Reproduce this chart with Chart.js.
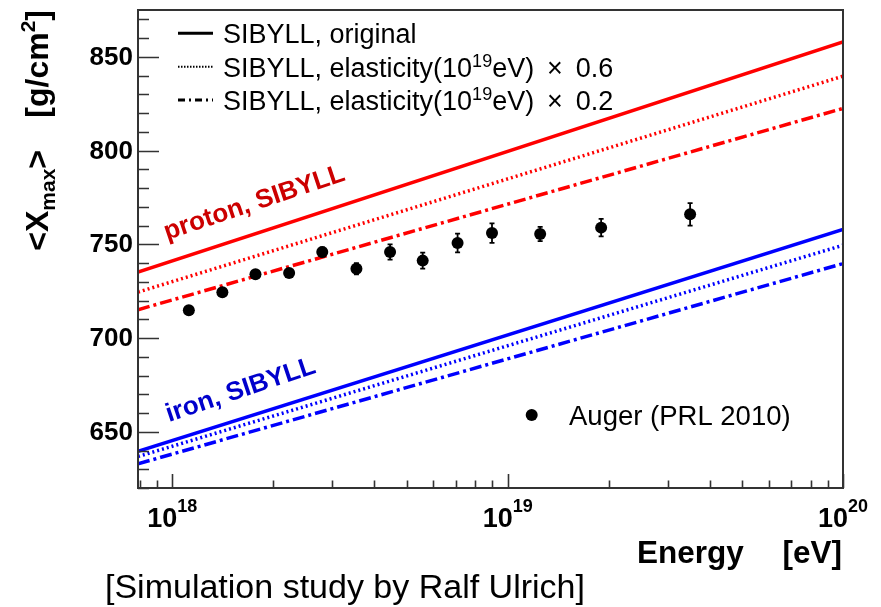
<!DOCTYPE html>
<html>
<head>
<meta charset="utf-8">
<script src="https://cdn.jsdelivr.net/npm/chart.js@4/dist/chart.umd.min.js"></script>
<style>
  html, body { margin: 0; padding: 0; background: #fff; }
  canvas { display: block; }
</style>
</head>
<body>
<canvas id="c" width="881" height="607"></canvas>
<script>
// Energy range of the model curves (eV) and <Xmax> (g/cm^2) at its two ends
const energyEdges = [7.9e17, 1e20];
const protonOriginal = [735.2, 858.0];
const protonElast06 = [724.5, 839.7];
const protonElast02 = [715.1, 822.5];
const ironOriginal = [639.5, 758.0];
const ironElast06 = [636.8, 749.5];
const ironElast02 = [632.9, 739.7];

// Auger measurement (PRL 2010)
const augerEnergy = [1.12e18, 1.41e18, 1.77e18, 2.23e18, 2.80e18, 3.54e18, 4.46e18,
                     5.58e18, 7.09e18, 8.98e18, 1.25e19, 1.90e19, 3.50e19];
const augerXmax = [714.8, 724.4, 734.0, 734.7, 745.9, 737.0, 745.9,
                   741.3, 750.7, 756.0, 755.5, 758.9, 766.0];
const augerErr = [1.5, 1.8, 2.0, 2.0, 2.5, 3.0, 4.1, 4.3, 5.0, 5.2, 3.8, 4.7, 6.0];

// Axis ticks
const yMajorTicks = [650, 700, 750, 800, 850];
const yMinorStep = 10;
const xDecades = [18, 19, 20];

// Legend entries
const legendEntries = [
  { dash: [], parts: [['SIBYLL, original', 'n']] },
  { dash: [1.5, 1.5], parts: [['SIBYLL, elasticity(10', 'n'], ['19', 's'], ['eV) \u2009\u00d7\u2009 0.6', 'n']] },
  { dash: [7, 4, 2, 4], parts: [['SIBYLL, elasticity(10', 'n'], ['19', 's'], ['eV) \u2009\u00d7\u2009 0.2', 'n']] }
];
const augerLabel = 'Auger (PRL 2010)';

const FAM = '"Liberation Sans", Arial, Helvetica, sans-serif';
const RED = '#ff0000', BLUE = '#0000ff';

function pts(ys) { return energyEdges.map((e, i) => ({ x: e, y: ys[i] })); }
function curve(ys, color, dash) {
  return { data: pts(ys), showLine: true, borderColor: color, borderWidth: 3.5,
           borderDash: dash, pointRadius: 0, fill: false };
}

function drawParts(ctx, parts, x, y, align) {
  let total = 0;
  for (const p of parts) { ctx.font = p.font; p.w = ctx.measureText(p.t).width; total += p.w; }
  let cx = align === 'right' ? x - total : align === 'center' ? x - total / 2 : x;
  ctx.textAlign = 'left';
  ctx.textBaseline = 'alphabetic';
  for (const p of parts) { ctx.font = p.font; ctx.fillText(p.t, cx, y + (p.dy || 0)); cx += p.w; }
}

const decorations = {
  id: 'decorations',
  afterDatasetsDraw(chart) {
    const ctx = chart.ctx, xs = chart.scales.x, ys = chart.scales.y;
    ctx.save();
    // error bars
    ctx.strokeStyle = '#000';
    ctx.lineWidth = 1.8;
    augerEnergy.forEach((e, i) => {
      const px = xs.getPixelForValue(e);
      const y1 = ys.getPixelForValue(augerXmax[i] - augerErr[i]);
      const y2 = ys.getPixelForValue(augerXmax[i] + augerErr[i]);
      ctx.beginPath();
      ctx.moveTo(px, y1); ctx.lineTo(px, y2);
      ctx.moveTo(px - 2.5, y1); ctx.lineTo(px + 2.5, y1);
      ctx.moveTo(px - 2.5, y2); ctx.lineTo(px + 2.5, y2);
      ctx.stroke();
    });
    ctx.restore();
  },
  afterDraw(chart) {
    const ctx = chart.ctx, xs = chart.scales.x, ys = chart.scales.y, a = chart.chartArea;
    ctx.save();
    // frame
    ctx.strokeStyle = '#333';
    ctx.lineWidth = 2;
    ctx.strokeRect(a.left, a.top, a.right - a.left, a.bottom - a.top);

    // y ticks
    ctx.lineWidth = 1.6;
    ctx.beginPath();
    for (let v = Math.ceil(ys.min / yMinorStep) * yMinorStep; v <= ys.max; v += yMinorStep) {
      const y = Math.round(ys.getPixelForValue(v)) + 0.5;
      const len = yMajorTicks.includes(v) ? 21 : 11;
      ctx.moveTo(a.left, y); ctx.lineTo(a.left + len, y);
    }
    // x ticks
    for (let d = 17; d <= 20; d++) {
      for (let k = 1; k <= 9; k++) {
        const v = k * Math.pow(10, d);
        if (v < xs.min * 1.001 || v > xs.max * 1.001) continue;
        const x = Math.round(xs.getPixelForValue(v)) + 0.5;
        const len = k === 1 ? 14 : 7.5;
        ctx.moveTo(x, a.bottom); ctx.lineTo(x, a.bottom - len);
      }
    }
    ctx.stroke();

    // tick labels
    ctx.fillStyle = '#000';
    ctx.font = 'bold 26px ' + FAM;
    ctx.textAlign = 'right';
    ctx.textBaseline = 'middle';
    yMajorTicks.forEach(v => ctx.fillText(String(v), 133, ys.getPixelForValue(v) + 1));
    xDecades.forEach(d => {
      drawParts(ctx, [
        { t: '10', font: 'bold 27px ' + FAM },
        { t: String(d), font: 'bold 18px ' + FAM, dy: -15.5 }
      ], xs.getPixelForValue(Math.pow(10, d)), 527, 'center');
    });

    // axis titles
    ctx.font = 'bold 31.5px ' + FAM;
    ctx.textAlign = 'left';
    ctx.textBaseline = 'alphabetic';
    ctx.fillText('Energy', 637, 563);
    ctx.textAlign = 'right';
    ctx.fillText('[eV]', 842, 563);

    ctx.save();
    ctx.translate(48, 10);
    ctx.rotate(-Math.PI / 2);
    drawParts(ctx, [
      { t: '[g/cm', font: 'bold 32px ' + FAM },
      { t: '2', font: 'bold 21px ' + FAM, dy: -13 },
      { t: ']', font: 'bold 32px ' + FAM }
    ], 0, 0, 'right');
    ctx.restore();
    ctx.save();
    ctx.translate(48, 150);
    ctx.rotate(-Math.PI / 2);
    drawParts(ctx, [
      { t: '<X', font: 'bold 32px ' + FAM },
      { t: 'max', font: 'bold 21px ' + FAM, dy: 7 },
      { t: '>', font: 'bold 32px ' + FAM }
    ], 0, 0, 'right');
    ctx.restore();

    // legend
    const rowY = [33.3, 66.7, 100];
    legendEntries.forEach((en, i) => {
      ctx.strokeStyle = '#000';
      ctx.lineWidth = i === 1 ? 2 : 3;
      ctx.setLineDash(en.dash);
      ctx.beginPath();
      ctx.moveTo(178, rowY[i]); ctx.lineTo(213, rowY[i]);
      ctx.stroke();
      ctx.setLineDash([]);
      ctx.fillStyle = '#000';
      drawParts(ctx, en.parts.map(([t, k]) => k === 'n'
        ? { t, font: '27px ' + FAM }
        : { t, font: '18px ' + FAM, dy: -10 }), 223, rowY[i] + 10, 'left');
    });
    ctx.beginPath();
    ctx.arc(531.7, 415, 6, 0, Math.PI * 2);
    ctx.fill();
    ctx.font = '27.5px ' + FAM;
    ctx.textAlign = 'left';
    ctx.fillText(augerLabel, 569, 425);

    // curve labels
    const ang = -18.5 * Math.PI / 180;
    ctx.save();
    ctx.translate(167, 240);
    ctx.rotate(ang);
    ctx.fillStyle = '#cc0000';
    ctx.font = 'bold 26px ' + FAM;
    ctx.fillText('proton, SIBYLL', 0, 0);
    ctx.restore();
    ctx.save();
    ctx.translate(169, 422);
    ctx.rotate(ang);
    ctx.fillStyle = '#0000cc';
    ctx.font = 'bold 26px ' + FAM;
    ctx.fillText('iron, SIBYLL', 0, 0);
    ctx.restore();

    // credit line
    ctx.fillStyle = '#000';
    ctx.font = '34px ' + FAM;
    ctx.fillText('[Simulation study by Ralf Ulrich]', 105, 598);
    ctx.restore();
  }
};

new Chart(document.getElementById('c'), {
  type: 'scatter',
  data: {
    datasets: [
      { data: augerEnergy.map((e, i) => ({ x: e, y: augerXmax[i] })), showLine: false,
        pointRadius: 6, pointHoverRadius: 6, backgroundColor: '#000', borderColor: '#000', borderWidth: 0 },
      curve(protonOriginal, RED, []),
      curve(protonElast06, RED, [2, 3]),
      curve(protonElast02, RED, [12, 4, 3, 4]),
      curve(ironOriginal, BLUE, []),
      curve(ironElast06, BLUE, [2, 3]),
      curve(ironElast02, BLUE, [12, 4, 3, 4])
    ]
  },
  options: {
    responsive: false,
    animation: false,
    layout: { padding: { left: 138, top: 10, right: 38, bottom: 119 } },
    plugins: { legend: { display: false }, tooltip: { enabled: false } },
    scales: {
      x: { type: 'logarithmic', min: energyEdges[0], max: energyEdges[1], display: false },
      y: { type: 'linear', min: 620, max: 875, display: false }
    }
  },
  plugins: [decorations]
});
</script>
</body>
</html>
